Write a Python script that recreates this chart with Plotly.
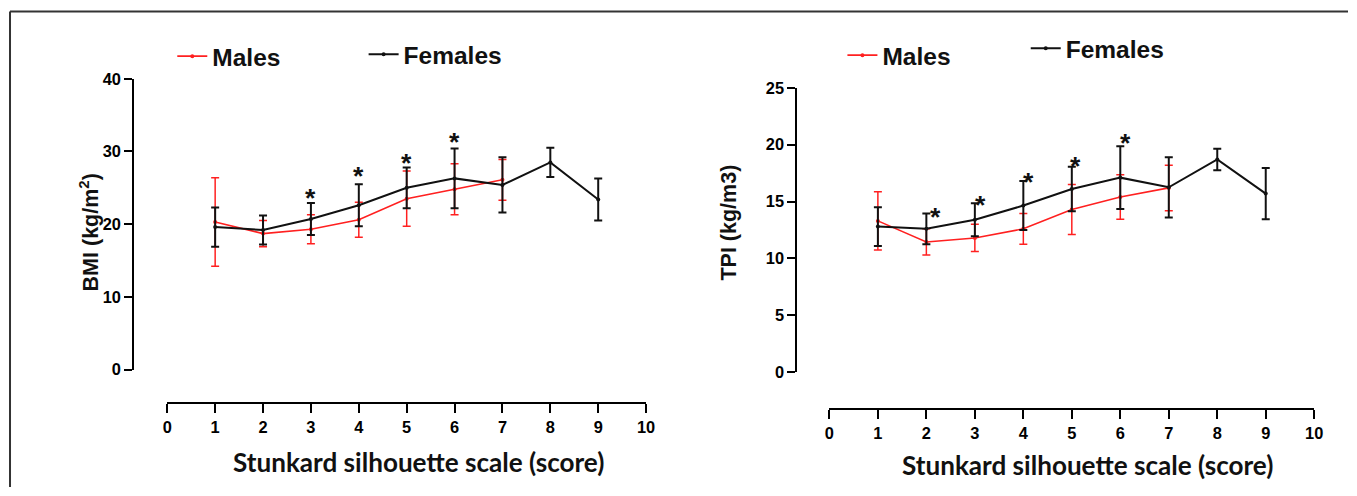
import plotly.graph_objects as go

W, H = 1357, 496

# ---------------- data ----------------
score_m = [1, 2, 3, 4, 5, 6, 7]
score_f = [1, 2, 3, 4, 5, 6, 7, 8, 9]

bmi_males = [20.3, 18.7, 19.3, 20.6, 23.5, 24.8, 26.1]
bmi_males_sd = [6.1, 1.8, 2.0, 2.4, 3.8, 3.5, 2.8]
bmi_females = [19.6, 19.2, 20.7, 22.6, 25.0, 26.3, 25.4, 28.5, 23.4]
bmi_females_sd = [2.7, 2.0, 2.2, 2.9, 2.8, 4.1, 3.8, 2.0, 2.9]

tpi_males = [13.3, 11.45, 11.8, 12.6, 14.3, 15.4, 16.2]
tpi_males_sd = [2.55, 1.15, 1.2, 1.35, 2.2, 1.95, 2.0]
tpi_females = [12.8, 12.6, 13.4, 14.65, 16.1, 17.1, 16.25, 18.7, 15.7]
tpi_females_sd = [1.7, 1.35, 1.45, 2.15, 1.95, 2.75, 2.65, 0.95, 2.25]

bmi_star_x = [3, 4, 5, 6]
bmi_star_y = [24.6, 27.6, 29.4, 32.3]
tpi_star_x = [2.18, 3.12, 4.1, 5.08, 6.1]
tpi_star_y = [14.3, 15.3, 17.35, 18.7, 20.75]

x_ticks = list(range(0, 11))
bmi_ticks = [0, 10, 20, 30, 40]
tpi_ticks = [0, 5, 10, 15, 20, 25]

RED = "#ff2020"
BLACK = "#111111"

# screen-pixel -> paper coordinate helpers (compensating the observed page scaling)
SX, OX = 0.988, 4.0
SY, OY = 0.969, 7.5


def px_x(p):
    return ((p - OX) / SX) / W


def px_y(p):
    return 1 - ((p - OY) / SY) / H


def fs(s):
    return round(s / 0.978, 1)


fig = go.Figure()


def add_series(x, y, err, color, name, xa, ya, legend, lw=2, ew=1.6):
    fig.add_trace(go.Scatter(
        x=x, y=y, name=name, mode="lines+markers",
        line=dict(color=color, width=lw),
        marker=dict(color=color, size=4),
        error_y=dict(type="data", array=err, visible=True, color=color,
                     thickness=ew, width=4),
        xaxis=xa, yaxis=ya, legend=legend, showlegend=True,
    ))


add_series(score_m, bmi_males, bmi_males_sd, RED, "Males", "x", "y", "legend", lw=1.6, ew=1.5)
add_series(score_f, bmi_females, bmi_females_sd, BLACK, "Females", "x", "y", "legend2", lw=2, ew=2)
add_series(score_m, tpi_males, tpi_males_sd, RED, "Males", "x2", "y2", "legend3", lw=1.6, ew=1.5)
add_series(score_f, tpi_females, tpi_females_sd, BLACK, "Females", "x2", "y2", "legend4", lw=2, ew=2)

tickfont_y = dict(family="Liberation Sans, Arial", size=fs(16), color="black", weight="bold")
tickfont_x = dict(family="Liberation Sans, Arial", size=fs(16), color="black", weight="bold")

axis_common = dict(showgrid=False, zeroline=False, showline=True, linecolor="black",
                   linewidth=2, ticks="outside", tickwidth=2, tickcolor="black")

legfont = dict(family="Liberation Sans, Arial", size=fs(24), color="#111", weight="bold")


def leg(xp, yp):
    return dict(x=px_x(xp), y=px_y(yp), xanchor="left", yanchor="middle",
                font=legfont, bgcolor="rgba(0,0,0,0)", borderwidth=0)


fig.update_layout(
    width=W, height=H, margin=dict(l=0, r=0, t=0, b=0),
    paper_bgcolor="white", plot_bgcolor="white",
    xaxis=dict(domain=[px_x(166), px_x(644)], range=[0, 10], anchor="free",
               position=px_y(404), tickvals=x_ticks, ticklen=9,
               tickfont=tickfont_x, **axis_common),
    yaxis=dict(domain=[px_y(370), px_y(77.7)], range=[0, 40], anchor="free",
               position=px_x(132), tickvals=bmi_ticks, ticklen=8,
               tickfont=tickfont_y, **axis_common),
    xaxis2=dict(domain=[px_x(827), px_x(1311)], range=[0, 10], anchor="free",
                position=px_y(409.6), tickvals=x_ticks, ticklen=9,
                tickfont=tickfont_x, **axis_common),
    yaxis2=dict(domain=[px_y(372.7), px_y(86.7)], range=[0, 25], anchor="free",
                position=px_x(794), tickvals=tpi_ticks, ticklen=8,
                tickfont=tickfont_y, **axis_common),
    legend=leg(171, 55),
    legend2=leg(362, 53),
    legend3=leg(840, 54),
    legend4=leg(1023, 47),
)

annotations = []
star_font = dict(family="Liberation Sans, Arial", size=fs(26), color="#111", weight="bold")
for sx, sy in zip(bmi_star_x, bmi_star_y):
    annotations.append(dict(x=sx, y=sy, xref="x", yref="y", text="*", showarrow=False,
                            yshift=-7, font=star_font))
for sx, sy in zip(tpi_star_x, tpi_star_y):
    annotations.append(dict(x=sx, y=sy, xref="x2", yref="y2", text="*", showarrow=False,
                            yshift=-7, font=star_font))

title_font = dict(family="Lato, Carlito, Calibri", size=fs(25.5), color="#111", weight="bold")
ytitle_font = dict(family="Liberation Sans, Arial", size=fs(21), color="#111", weight="bold")
annotations += [
    dict(x=px_x(417), y=px_y(463), xref="paper", yref="paper", text="Stunkard silhouette scale (score)",
         showarrow=False, font=title_font, xanchor="center", yanchor="middle"),
    dict(x=px_x(1085), y=px_y(466), xref="paper", yref="paper", text="Stunkard silhouette scale (score)",
         showarrow=False, font=title_font, xanchor="center", yanchor="middle"),
    dict(x=px_x(88), y=px_y(232), xref="paper", yref="paper", text="BMI (kg/m<sup>2</sup>)",
         showarrow=False, font=ytitle_font, textangle=-90, xanchor="center", yanchor="middle"),
    dict(x=px_x(727), y=px_y(222), xref="paper", yref="paper", text="TPI (kg/m3)",
         showarrow=False, font=ytitle_font, textangle=-90, xanchor="center", yanchor="middle"),
]
fig.update_layout(annotations=annotations)

# frame lines of the figure panel
fig.add_shape(type="line", xref="paper", yref="paper", x0=px_x(9), x1=1, y0=px_y(10), y1=px_y(10),
              line=dict(color="#333", width=2))
fig.add_shape(type="line", xref="paper", yref="paper", x0=px_x(9), x1=px_x(9), y0=px_y(10), y1=0,
              line=dict(color="#333", width=2))

post = (
    "document.documentElement.style.margin='0';"
    "document.documentElement.style.overflow='hidden';"
    "document.body.style.margin='0';"
    "document.body.style.padding='0';"
    "document.body.style.overflow='hidden';"
    "var gd=document.getElementById('{plot_id}');"
    "gd.style.position='fixed';gd.style.left='0px';gd.style.top='0px';"
)

fig.write_html("out.html", post_script=post, config={"displayModeBar": False})
